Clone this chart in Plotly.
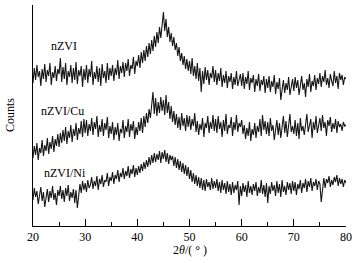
import plotly.graph_objects as go

# 2theta step (degrees) and start
theta_start = 20.0
theta_step = 0.25

nzvi = [
143,158,146,161,149,155,140,157,147,162,144,156,150,163,141,154,148,160,145,157,
152,168,144,159,147,163,141,155,149,161,143,158,146,164,142,156,150,160,139,157,
146,161,143,157,149,165,141,154,147,160,144,158,140,162,148,155,143,163,146,158,
150,161,145,158,151,166,147,160,153,164,149,163,155,167,150,161,157,169,152,165,
160,171,158,174,163,176,165,180,169,183,172,186,175,190,179,194,183,199,188,203,
214,195,207,189,199,184,193,180,189,176,183,170,179,165,173,161,170,157,167,155,
165,152,168,150,160,147,163,145,158,134,155,142,159,146,156,141,153,148,160,144,
156,141,153,145,158,139,151,143,155,138,150,144,153,137,149,141,155,140,147,152,
140,153,137,149,142,155,136,148,143,151,134,147,140,152,135,146,141,150,133,147,
138,150,134,145,139,151,132,144,137,148,126,140,146,133,143,136,149,131,142,147,
135,149,138,146,131,144,150,136,143,129,147,139,152,134,145,140,151,136,148,142,
153,139,150,144,156,141,148,138,152,145,140,155,143,150,137,153,146,151,141,149,
147]

nzvi_cu = [
68,80,71,83,66,78,73,86,70,81,75,88,72,84,77,90,74,87,80,92,
79,93,83,96,85,99,82,95,88,101,84,97,90,103,86,98,92,105,89,107,
93,106,90,102,95,108,91,104,97,110,89,101,94,107,90,103,96,109,88,100,
92,104,86,99,91,103,85,97,93,106,88,100,94,107,89,102,95,105,87,99,
91,104,95,108,93,110,99,113,103,117,108,121,134,112,128,110,124,113,129,115,
126,111,131,113,124,107,120,104,115,101,112,98,109,96,113,100,108,95,111,99,
110,96,107,100,113,94,105,91,102,96,108,89,103,98,110,93,104,97,111,95,
107,93,110,97,104,89,106,95,112,92,101,98,109,90,104,96,111,94,103,99,
106,92,101,87,98,90,104,85,97,91,103,88,100,94,107,90,111,96,105,92,
104,90,108,95,101,86,99,106,91,103,88,97,110,93,105,89,101,112,94,100,
92,106,90,103,87,108,95,100,91,105,112,94,99,107,88,104,96,110,93,101,
108,95,111,98,104,90,106,100,109,94,103,97,107,93,105,99,102,95,104,100,
101]

nzvi_ni = [
26,38,29,35,22,33,39,25,34,19,31,37,24,35,28,40,26,33,21,36,
30,40,27,36,24,38,30,41,25,34,28,37,23,36,18,31,42,33,45,36,
43,34,46,38,41,49,37,45,40,50,36,47,42,51,39,46,44,53,40,49,
45,54,42,51,47,56,44,53,49,58,47,55,50,60,48,57,52,61,49,58,
51,60,53,62,55,64,57,66,59,69,61,71,63,73,64,72,66,75,63,74,
67,76,64,73,62,71,66,70,60,69,58,67,56,65,54,63,52,61,50,59,
47,56,44,53,42,51,40,49,38,48,36,46,35,47,39,44,36,48,37,45,
38,47,35,44,33,46,36,43,32,45,34,42,31,44,33,41,36,45,21,40,
30,43,34,41,29,45,33,40,31,42,35,44,30,39,33,46,32,41,29,43,
23,40,32,44,35,41,30,45,33,42,29,46,34,40,31,44,36,43,32,45,
35,44,31,42,37,46,33,43,38,47,34,45,39,48,35,44,40,47,36,45,
42,24,40,48,38,47,43,50,39,46,41,49,44,51,40,48,42,47,39,46,
43]

series_names = ["nZVI", "nZVI/Cu", "nZVI/Ni"]
series_values = [nzvi, nzvi_cu, nzvi_ni]
label_pos = [(25.9, 180), (25.6, 115), (26.1, 53)]

x_ticks = [20, 30, 40, 50, 60, 70, 80]
x_title = "2<i>θ</i>/( ° )"
y_title = "Counts"

FONT = "Liberation Serif, Times New Roman, serif"

fig = go.Figure()
for name, vals in zip(series_names, series_values):
    xs = [theta_start + theta_step * i for i in range(len(vals))]
    fig.add_trace(go.Scatter(x=xs, y=vals, mode="lines", name=name,
                             line=dict(color="#161616", width=1.1)))

for name, (lx, ly) in zip(series_names, label_pos):
    fig.add_annotation(x=lx, y=ly, xref="x", yref="y", text=name, showarrow=False,
                       font=dict(family=FONT, size=12, color="black"))

fig.add_annotation(x=-0.075, y=0.5, xref="paper", yref="paper", text=y_title,
                   textangle=-90, showarrow=False, xanchor="center", yanchor="middle",
                   font=dict(family=FONT, size=12, color="black"))
fig.add_annotation(x=0.5, y=-0.11, xref="paper", yref="paper", text=x_title,
                   showarrow=False, xanchor="center", yanchor="middle",
                   font=dict(family=FONT, size=12, color="black"))

fig.update_layout(
    width=360, height=263,
    margin=dict(l=33, r=14, t=5, b=37),
    paper_bgcolor="white", plot_bgcolor="white",
    showlegend=False,
    font=dict(family=FONT, size=12, color="black"),
    xaxis=dict(range=[20, 80], tickvals=x_ticks, ticks="inside", ticklen=7,
               tickcolor="black", showline=True, linecolor="black", linewidth=1,
               showgrid=False, zeroline=False,
               minor=dict(ticks="inside", ticklen=4, tick0=20, dtick=5, tickcolor="black")),
    yaxis=dict(range=[0, 221], tickvals=[221], ticks="inside", ticklen=7,
               tickcolor="black", showticklabels=False, showline=True,
               linecolor="black", linewidth=1, showgrid=False, zeroline=False),
)

fig.write_html("out.html",
               config={"displayModeBar": False},
               post_script="document.body.style.margin='0px';document.body.style.padding='0px';")
